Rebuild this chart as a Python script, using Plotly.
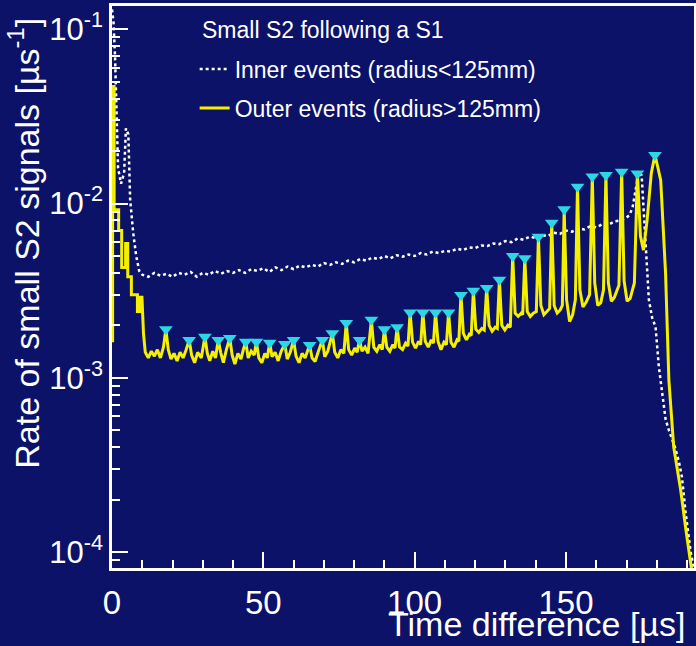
import plotly.graph_objects as go

# ---------------- data ----------------
# Inner events (radius < 125 mm), white dotted
x_inner = [0, 0.5, 1.0, 1.5, 2.0, 3.0, 4.0, 4.6, 5.4, 6.0, 7.0, 8.0, 9.0,
           10, 12, 14, 16, 18, 20, 22, 24, 26, 28, 30, 32, 34, 36, 38, 40,
           42, 44, 46, 48, 50, 52, 54, 56, 58, 60, 62, 64, 66, 68, 70, 72,
           74, 76, 78, 80, 82, 84, 86, 88, 90, 92, 94, 96, 98, 100, 102, 104,
           106, 108, 110, 112, 114, 116, 118, 120, 122, 124, 126, 128, 130, 132,
           134, 136, 138, 140, 142, 144, 146, 148, 150, 152, 154, 156, 158, 160,
           162, 164, 166, 168, 170,
           171, 172, 173, 174, 175, 175.8, 176.5, 177.4, 178.5, 179.6, 180.7,
           181.8, 182.9, 184.0, 185.0, 186.0, 187.3, 188.3, 189.5, 190.3, 191.2, 192.3]
y_inner = [0.13, 0.11, 0.07, 0.035, 0.016, 0.013, 0.015, 0.027, 0.025, 0.0105, 0.0068, 0.0050, 0.0041,
           3.9e-3, 3.8e-3, 4.0e-3, 3.85e-3, 3.95e-3, 3.8e-3, 4.0e-3, 3.9e-3, 4.05e-3, 3.8e-3, 4.0e-3, 3.9e-3, 4.1e-3, 3.95e-3, 4.1e-3, 4.0e-3,
           4.15e-3, 4.0e-3, 4.2e-3, 4.1e-3, 4.25e-3, 4.05e-3, 4.3e-3, 4.15e-3, 4.35e-3, 4.2e-3, 4.4e-3, 4.3e-3, 4.45e-3, 4.35e-3, 4.55e-3, 4.45e-3,
           4.6e-3, 4.5e-3, 4.7e-3, 4.6e-3, 4.8e-3, 4.7e-3, 4.9e-3, 4.8e-3, 5.0e-3, 4.85e-3, 5.05e-3, 4.95e-3, 5.1e-3, 5.0e-3, 5.2e-3, 5.1e-3,
           5.3e-3, 5.2e-3, 5.35e-3, 5.3e-3, 5.5e-3, 5.4e-3, 5.6e-3, 5.55e-3, 5.75e-3, 5.7e-3, 5.9e-3, 5.85e-3, 6.1e-3, 6.0e-3,
           6.3e-3, 6.2e-3, 6.45e-3, 6.35e-3, 6.6e-3, 6.5e-3, 6.8e-3, 6.7e-3, 7.0e-3, 6.9e-3, 7.2e-3, 7.1e-3, 7.4e-3, 7.3e-3,
           7.6e-3, 7.55e-3, 7.9e-3, 8.0e-3, 8.3e-3,
           8.6e-3, 9.5e-3, 1.2e-2, 1.5e-2, 1.45e-2, 8.5e-3, 5.4e-3, 2.8e-3, 2.2e-3, 1.96e-3, 1.15e-3,
           8.2e-4, 5.8e-4, 5.0e-4, 4.5e-4, 4.0e-4, 3.3e-4, 2.7e-4, 1.7e-4, 1.3e-4, 1.0e-4, 8e-5]

# Outer events (radius > 125 mm), yellow solid
x_outer = [0.2, 0.2, 0.7, 0.7, 2.2, 2.2, 3.2, 3.2, 4.5, 4.5, 5.2, 5.2, 6.4, 6.4, 8.4, 8.4, 9.3, 9.3, 9.9, 10.4, 11.0,
           12, 13, 14, 15, 16, 17, 17.8, 18.6, 19.5, 20.5,
           21.5, 22.5, 23.5, 24.5, 25.5, 26.3, 27.3, 28.3, 29.5, 30.7,
           31.5, 32.3, 33.3, 34.2, 35.1, 35.9, 36.8, 37.8, 38.9, 39.7,
           40.6, 41.6, 42.6, 43.4, 44.2, 45.0, 46.0, 47.0, 47.7, 48.5,
           49.5, 50.5, 51.3, 52.1, 52.9, 53.9, 54.9, 55.9, 57.1, 57.9,
           58.9, 60.0, 60.8, 61.8, 62.8, 63.8, 64.5, 65.3, 66.1, 67.1,
           68.1, 69.5, 70.3, 71.3, 72.8, 73.6, 74.6, 75.6, 76.6, 77.4,
           78.2, 79.2, 80.2, 81.0, 81.8, 82.6, 83.6, 84.6, 85.7, 86.5,
           87.5, 88.5, 89.3, 90.0, 90.8, 91.8, 92.8, 93.5, 94.2, 95.0,
           96.0, 97.0, 97.8, 98.5, 99.3, 100.3, 101.3, 102.0, 102.7, 103.5,
           104.5, 105.5, 106.2, 106.9, 107.7, 108.7, 109.7, 110.5, 111.2, 112.0,
           113.0, 114.0, 114.6, 115.3, 116.1, 117.1, 118.1, 118.7, 119.4, 120.2,
           121.2, 122.2, 123.0, 123.8, 124.6, 125.6, 126.6, 127.3, 128.0, 128.8,
           129.8, 130.8, 131.6, 132.4, 133.2, 134.2, 135.2, 135.7, 136.4, 137.2,
           138.2, 139.2, 140.2, 140.9, 141.7, 142.7, 143.7, 144.6, 145.3, 146.1,
           147.1, 148.1, 148.8, 149.4, 150.2, 151.2, 152.2, 153.1, 153.8, 154.6,
           155.6, 156.6, 157.8, 158.7, 159.5, 160.5, 161.5, 162.4, 163.2, 164.0,
           165.0, 166.0, 167.5, 168.4, 169.2, 170.2, 171.2, 172.6, 173.6, 174.6,
           175.6, 176.8, 178.2, 179.4, 180.4, 181.3, 182.9, 184.0, 185.6, 187.9,
           189.5, 191.2, 192.5]
y_outer = [1.6e-3, 4.7e-2, 4.7e-2, 9.2e-3, 9.2e-3, 7.0e-3, 7.0e-3, 4.3e-3, 4.3e-3, 5.9e-3, 5.9e-3, 3.8e-3, 3.8e-3, 3.0e-3, 3.0e-3, 2.4e-3, 2.4e-3, 2.9e-3, 2.9e-3, 1.8e-3, 1.4e-3,
           1.30e-3, 1.42e-3, 1.33e-3, 1.45e-3, 1.30e-3, 1.50e-3, 1.90e-3, 1.45e-3, 1.28e-3, 1.38e-3,
           1.25e-3, 1.40e-3, 1.30e-3, 1.45e-3, 1.65e-3, 1.35e-3, 1.22e-3, 1.40e-3, 1.30e-3, 1.72e-3,
           1.38e-3, 1.25e-3, 1.42e-3, 1.30e-3, 1.65e-3, 1.40e-3, 1.22e-3, 1.45e-3, 1.69e-3, 1.35e-3,
           1.20e-3, 1.38e-3, 1.28e-3, 1.45e-3, 1.61e-3, 1.30e-3, 1.42e-3, 1.35e-3, 1.61e-3, 1.30e-3,
           1.22e-3, 1.38e-3, 1.30e-3, 1.59e-3, 1.32e-3, 1.40e-3, 1.25e-3, 1.42e-3, 1.56e-3, 1.28e-3,
           1.40e-3, 1.65e-3, 1.33e-3, 1.22e-3, 1.38e-3, 1.30e-3, 1.42e-3, 1.54e-3, 1.30e-3, 1.24e-3,
           1.40e-3, 1.65e-3, 1.32e-3, 1.42e-3, 1.80e-3, 1.40e-3, 1.30e-3, 1.45e-3, 1.38e-3, 2.06e-3,
           1.45e-3, 1.35e-3, 1.48e-3, 1.40e-3, 1.65e-3, 1.42e-3, 1.50e-3, 1.38e-3, 2.15e-3, 1.50e-3,
           1.42e-3, 1.55e-3, 1.45e-3, 1.90e-3, 1.50e-3, 1.42e-3, 1.55e-3, 1.48e-3, 1.95e-3, 1.50e-3,
           1.45e-3, 1.58e-3, 1.52e-3, 2.37e-3, 1.60e-3, 1.48e-3, 1.62e-3, 1.55e-3, 2.37e-3, 1.62e-3,
           1.50e-3, 1.65e-3, 1.58e-3, 2.37e-3, 1.62e-3, 1.45e-3, 1.60e-3, 1.55e-3, 2.37e-3, 1.60e-3,
           1.50e-3, 1.65e-3, 1.62e-3, 2.99e-3, 1.80e-3, 1.65e-3, 1.78e-3, 1.75e-3, 3.16e-3, 1.90e-3,
           1.82e-3, 1.92e-3, 1.88e-3, 3.27e-3, 2.00e-3, 1.85e-3, 1.95e-3, 1.92e-3, 3.65e-3, 2.00e-3,
           1.88e-3, 2.00e-3, 1.95e-3, 5.00e-3, 2.35e-3, 2.25e-3, 2.35e-3, 2.30e-3, 4.85e-3, 2.40e-3,
           2.25e-3, 2.35e-3, 2.40e-3, 6.45e-3, 2.60e-3, 2.30e-3, 2.40e-3, 2.50e-3, 7.76e-3, 2.60e-3,
           2.35e-3, 2.45e-3, 2.60e-3, 9.27e-3, 2.80e-3, 2.10e-3, 2.30e-3, 2.80e-3, 1.25e-2, 3.20e-3,
           2.55e-3, 2.70e-3, 3.00e-3, 1.43e-2, 3.50e-3, 2.60e-3, 2.70e-3, 3.20e-3, 1.46e-2, 3.50e-3,
           2.75e-3, 2.90e-3, 3.40e-3, 1.52e-2, 3.60e-3, 2.75e-3, 2.85e-3, 3.50e-3, 1.49e-2, 6.50e-3,
           5.40e-3, 8.00e-3, 1.50e-2, 1.90e-2, 1.60e-2, 1.36e-2, 4.00e-3, 9.70e-4, 4.00e-4, 2.27e-4,
           1.39e-4, 8.2e-5, 6e-5]

# Peaks of the outer-event periodic structure (cyan markers)
peak_x = [17.8, 25.5, 30.7, 35.1, 38.9, 44.2, 47.7, 52.1, 57.1, 60.0, 65.3, 69.5, 72.8,
          77.4, 81.8, 85.7, 90.0, 94.2, 98.5, 102.7, 106.9, 111.2, 115.3, 119.4, 123.8,
          128.0, 132.4, 136.4, 140.9, 145.3, 149.4, 153.8, 158.7, 163.2, 168.4, 173.6, 179.4]
peak_y = [1.90e-3, 1.65e-3, 1.72e-3, 1.65e-3, 1.69e-3, 1.61e-3, 1.61e-3, 1.59e-3, 1.56e-3,
          1.65e-3, 1.54e-3, 1.65e-3, 1.80e-3, 2.06e-3, 1.65e-3, 2.15e-3, 1.90e-3, 1.95e-3,
          2.37e-3, 2.37e-3, 2.37e-3, 2.37e-3, 2.99e-3, 3.16e-3, 3.27e-3, 3.65e-3, 5.0e-3,
          4.85e-3, 6.45e-3, 7.76e-3, 9.27e-3, 1.25e-2, 1.43e-2, 1.46e-2, 1.52e-2, 1.49e-2, 1.90e-2]

# y-axis decade ticks and their labels
y_tickvals = [1e-4, 1e-3, 1e-2, 1e-1]
y_ticktext = ["10<sup>-4</sup>", "10<sup>-3</sup>", "10<sup>-2</sup>", "10<sup>-1</sup>"]

assert len(x_inner) == len(y_inner), (len(x_inner), len(y_inner))
assert len(x_outer) == len(y_outer), (len(x_outer), len(y_outer))
assert len(peak_x) == len(peak_y)

legend_title = "Small S2 following a S1"
name_inner = "Inner events (radius&lt;125mm)"
name_outer = "Outer events (radius&gt;125mm)"
x_title = "Time difference [µs]"
y_title = "Rate of small S2 signals [µs<sup>-1</sup>]"

# ---------------- styling ----------------
FONT = "Liberation Sans, Arial, Helvetica, sans-serif"
BG = "#0b1268"
YELLOW = "#f4f000"
CYAN = "#2cd6e2"

fig = go.Figure()
fig.add_trace(go.Scatter(x=x_inner, y=y_inner, mode="lines", name=name_inner,
                         legendgroup="inner",
                         line=dict(color="white", width=2.5, dash="dot")))
fig.add_trace(go.Scatter(x=x_outer, y=y_outer, mode="lines", name=name_outer,
                         legendgroup="outer",
                         line=dict(color=YELLOW, width=3)))
fig.add_trace(go.Scatter(x=peak_x, y=peak_y, mode="markers", showlegend=False,
                         marker=dict(symbol="triangle-down", size=12, color=CYAN)))

axis_common = dict(
    showline=True, linecolor="white", linewidth=2.5, mirror=True,
    ticks="inside", ticklen=16, tickwidth=2, tickcolor="white",
    showgrid=False, zeroline=False, automargin=False,
)

fig.update_layout(
    width=696, height=646,
    margin=dict(l=112, r=2, t=6, b=78, autoexpand=False),
    paper_bgcolor=BG, plot_bgcolor=BG,
    font=dict(family=FONT, color="white"),
    xaxis=dict(range=[0, 192.3], dtick=50, tick0=0,
               tickfont=dict(family=FONT, size=33, color="white"),
               ticklabelstandoff=4,
               minor=dict(ticks="inside", ticklen=8, dtick=10, tickwidth=2, tickcolor="white"),
               **axis_common),
    yaxis=dict(type="log", range=[-4.092, -0.866],
               tickvals=y_tickvals, ticktext=y_ticktext,
               tickfont=dict(family=FONT, size=31, color="white"),
               minor=dict(ticks="inside", ticklen=8, dtick="D1", tickwidth=2, tickcolor="white"),
               **axis_common),
    legend=dict(x=0.142, y=0.926, xanchor="left", yanchor="top",
                bgcolor="rgba(0,0,0,0)", borderwidth=0,
                font=dict(family=FONT, size=23, color="white"),
                tracegroupgap=6, itemwidth=30),
    annotations=[
        dict(text=legend_title, xref="paper", yref="paper", x=0.151, y=0.957,
             xanchor="left", yanchor="middle", showarrow=False,
             font=dict(family=FONT, size=23, color="white")),
        dict(text=x_title, xref="paper", yref="paper", x=0.988, y=-0.1005,
             xanchor="right", yanchor="middle", showarrow=False,
             font=dict(family=FONT, size=34, color="white")),
        dict(text=y_title, xref="paper", yref="paper", x=-0.152, y=0.578,
             xanchor="center", yanchor="middle", textangle=-90, showarrow=False,
             font=dict(family=FONT, size=34, color="white")),
    ],
)

fig.write_html("out.html",
               config={"displayModeBar": False},
               post_script="document.body.style.margin='0';document.body.style.overflow='hidden';")
